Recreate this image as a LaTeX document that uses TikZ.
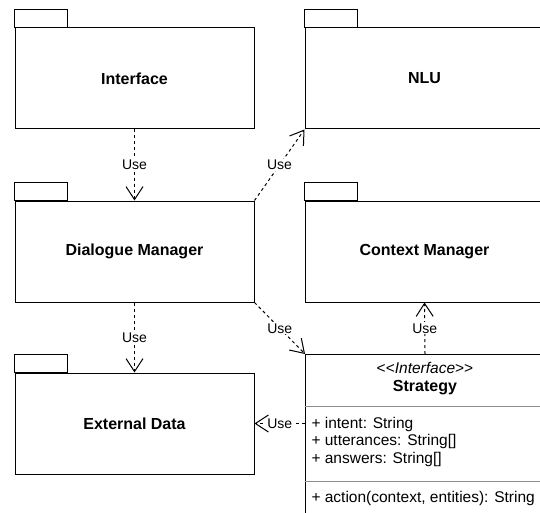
\documentclass[tikz,border=0pt]{standalone}
\usepackage{fontspec}
\setmainfont{Liberation Sans}
\usetikzlibrary{arrows.meta}
\definecolor{sepgray}{rgb}{0.55,0.55,0.55}

\tikzset{
  pkg/.style={draw, minimum width=239pt, minimum height=101pt, font=\fontsize{16}{18}\selectfont\bfseries},
  use/.style={dash pattern=on 3pt off 3pt, -{Straight Barb[length=13pt,width=17pt]}},
  lbl/.style={fill=white, inner sep=1pt, font=\fontsize{14}{16}\selectfont},
  member/.style={anchor=west, inner sep=0pt, font=\fontsize{15.5}{18}\selectfont}
}

\begin{document}
\begin{tikzpicture}[x=1pt,y=-1pt,line width=1pt]
\path[use as bounding box, clip] (0,0) rectangle (540,513);

% packages
\node[pkg] (iface) at (134.5,78.5) {Interface};
\node[pkg] (nlu) at (424.5,78.5) {NLU};
\node[pkg] (dm) at (134.5,251.5) {Dialogue Manager};
\node[pkg] (cm) at (424.5,251.5) {Context Manager};
\node[pkg] (ext) at (134.5,423.5) {External Data};
\foreach \p in {iface,nlu,dm,cm,ext}
  \draw (\p.north west) rectangle ++(53,-18);

% interface class
\node[draw, anchor=north west, minimum width=239pt, minimum height=180pt] (strat) at (305,354) {};
\node[font=\fontsize{15.5}{18}\selectfont] (stereo) at (425,368) {{<}{<}\textit{Interface}{>}{>}};
\node[font=\fontsize{16}{18}\selectfont\bfseries] (sname) at (425,388) {Strategy};
\draw[sepgray] (305,406) -- (544,406);
\node[member] (attr1) at (311,424) {+ intent: String};
\node[member] (attr2) at (311,441) {+ utterances: String[]};
\node[member] (attr3) at (311,459) {+ answers: String[]};
\draw[sepgray] (305,481) -- (544,481);
\node[member] (meth1) at (311,498) {+ action(context, entities): String};

% dependencies
\draw[use] (iface) -- node[lbl]{Use} (dm);
\draw[use] (dm.north east) -- node[lbl]{Use} (nlu.south west);
\draw[use] (dm) -- node[lbl]{Use} (ext);
\draw[use] (dm.south east) -- node[lbl]{Use} (strat.north west);
\draw[use] (strat.north) -- node[lbl]{Use} (cm.south);
\draw[use] (strat.west |- ext.east) -- node[lbl]{Use} (ext.east);
\end{tikzpicture}
\end{document}
